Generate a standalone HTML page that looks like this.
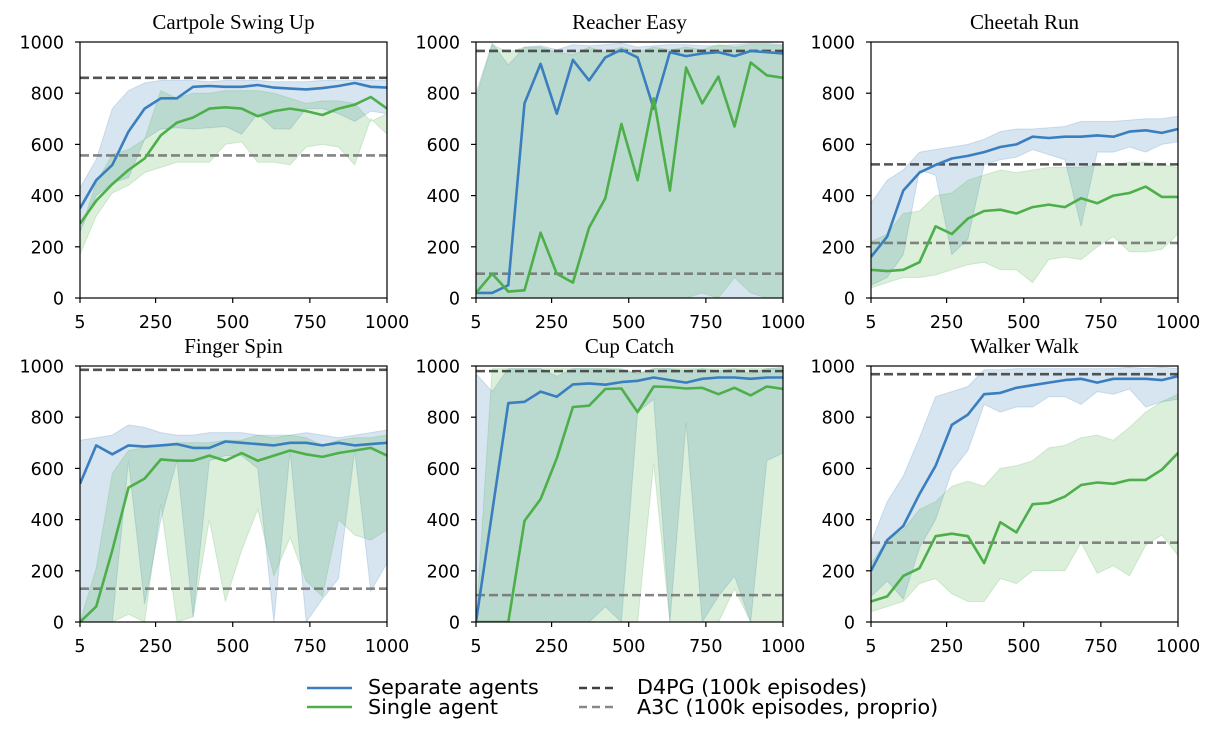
<!DOCTYPE html>
<html><head><meta charset="utf-8"><style>
html,body{margin:0;padding:0;background:#fff;}
svg text{font-family:"DejaVu Sans","Liberation Sans",sans-serif;}
</style></head><body>
<svg id="s" width="1212" height="726" xmlns="http://www.w3.org/2000/svg"></svg>
<script>
const S=document.getElementById('s');
let h='';
const panels=[
{t:'Cartpole Swing Up',x0:80,y0:42,d4:860,a3:557,
b:[350,460,520,650,740,780,780,825,828,825,825,832,822,818,815,820,828,840,825,822],
bu:[430,540,740,810,840,850,850,850,845,850,850,850,845,845,845,850,850,850,850,850],
bl:[260,400,450,470,620,660,665,660,665,670,640,720,660,660,740,740,720,690,730,720],
g:[290,380,445,500,545,635,685,705,740,745,740,710,730,740,730,715,740,755,785,740],
gu:[260,450,560,580,620,810,780,800,800,810,810,810,800,780,760,770,770,760,690,720],
gl:[170,320,410,440,490,510,530,530,530,600,610,530,530,520,590,600,590,520,700,640]},
{t:'Reacher Easy',x0:476,y0:42,d4:965,a3:95,
b:[20,20,50,760,915,720,930,850,940,970,940,740,960,945,955,960,945,965,960,955],
bu:[800,995,910,980,985,970,990,985,990,995,980,985,990,990,985,985,990,995,995,990],
bl:[0,0,0,0,0,0,0,0,0,0,0,0,0,0,0,0,0,0,0,0],
g:[20,95,25,30,255,95,60,275,390,680,460,780,420,900,760,865,670,920,870,860],
gu:[780,990,960,980,980,960,950,980,960,980,960,980,970,980,970,990,980,990,990,985],
gl:[0,0,0,0,0,0,0,0,0,0,0,0,0,0,20,0,80,20,0,0]},
{t:'Cheetah Run',x0:871,y0:42,d4:522,a3:215,
b:[160,240,420,490,520,545,555,570,590,600,630,625,630,630,635,630,650,655,645,660],
bu:[370,460,500,570,580,590,600,620,650,660,660,665,670,690,690,690,695,700,700,710],
bl:[50,80,170,500,480,170,230,520,540,550,580,560,540,280,570,570,590,570,600,610],
g:[110,105,110,140,280,250,310,340,345,330,355,365,355,390,370,400,410,435,395,395],
gu:[220,250,330,340,400,410,460,480,500,490,500,510,510,510,520,520,530,530,520,510],
gl:[40,60,80,80,90,110,130,140,110,110,60,150,160,150,200,240,180,180,190,250]},
{t:'Finger Spin',x0:80,y0:366,d4:985,a3:130,
b:[540,690,655,690,685,690,695,680,680,705,700,695,690,700,700,690,700,690,695,700],
bu:[710,720,730,770,760,740,730,730,740,740,740,730,730,730,740,730,720,730,740,750],
bl:[0,0,0,630,70,400,630,20,630,650,650,600,0,670,0,90,170,670,120,230],
g:[0,60,280,525,560,635,630,630,650,630,660,630,650,670,655,645,660,670,680,650],
gu:[0,210,580,670,680,690,700,700,700,710,710,730,720,730,720,690,710,720,720,730],
gl:[0,0,0,30,0,460,0,20,400,80,280,440,180,330,160,100,400,340,320,360]},
{t:'Cup Catch',x0:476,y0:366,d4:980,a3:105,
b:[0,430,855,860,900,880,928,932,927,937,942,955,945,935,950,955,955,950,955,955],
bu:[970,900,990,990,990,960,990,990,990,985,970,990,990,980,990,980,990,970,990,995],
bl:[0,0,0,0,0,0,0,0,60,0,820,870,0,780,0,100,180,0,630,660],
g:[0,0,0,395,480,640,840,845,910,912,820,920,918,912,915,890,915,885,920,910],
gu:[0,990,990,990,990,990,990,990,990,990,970,990,990,990,990,990,990,990,990,990],
gl:[0,0,0,0,0,0,0,0,0,0,0,620,0,0,0,0,130,0,0,0]},
{t:'Walker Walk',x0:871,y0:366,d4:968,a3:310,
b:[200,320,375,500,610,770,810,890,895,915,925,935,945,950,935,950,950,950,945,960],
bu:[310,470,570,720,880,900,920,985,985,990,990,990,990,990,990,990,995,990,995,990],
bl:[100,160,90,290,400,590,670,850,820,840,840,880,880,850,900,890,910,840,860,870],
g:[80,100,180,210,335,345,335,230,390,350,460,465,490,535,545,540,555,555,595,660],
gu:[230,320,360,440,470,530,550,530,600,610,630,680,690,720,730,710,760,820,860,890],
gl:[40,60,80,150,170,110,80,80,170,150,200,200,200,310,190,220,180,300,340,260]}
];
const W=307,H=256;
const blue='#3a7ebf',green='#4daf4a';
panels.forEach(p=>{
 const X=i=>p.x0+ (i*(995/19))/995*W;
 const Y=v=>p.y0+H-v/1000*H;
 const band=(u,l,c)=>{let s='';u.forEach((v,i)=>s+=(i?'L':'M')+X(i).toFixed(1)+','+Y(v).toFixed(1));
  for(let i=l.length-1;i>=0;i--)s+='L'+X(i).toFixed(1)+','+Y(l[i]).toFixed(1);
  return `<path d="${s}Z" fill="${c}" fill-opacity="0.2" stroke="${c}" stroke-opacity="0.2" stroke-width="1"/>`;};
 const line=(a,c)=>{let s='';a.forEach((v,i)=>s+=(i?'L':'M')+X(i).toFixed(1)+','+Y(v).toFixed(1));
  return `<path d="${s}" fill="none" stroke="${c}" stroke-width="2.6" stroke-linejoin="round"/>`;};
 h+=`<clipPath id="c${p.x0}${p.y0}"><rect x="${p.x0}" y="${p.y0}" width="${W}" height="${H}"/></clipPath>`;
 h+=`<g clip-path="url(#c${p.x0}${p.y0})">`;
 h+=band(p.bu,p.bl,'#377eb8')+band(p.gu,p.gl,green);
 h+=`<line x1="${p.x0}" x2="${p.x0+W}" y1="${Y(p.d4)}" y2="${Y(p.d4)}" stroke="#404040" stroke-opacity="0.9" stroke-width="2.6" stroke-dasharray="9,4"/>`;
 h+=`<line x1="${p.x0}" x2="${p.x0+W}" y1="${Y(p.a3)}" y2="${Y(p.a3)}" stroke="#707070" stroke-opacity="0.85" stroke-width="2.6" stroke-dasharray="9,4"/>`;
 h+=line(p.b,blue)+line(p.g,green)+'</g>';
 h+=`<rect x="${p.x0}" y="${p.y0}" width="${W}" height="${H}" fill="none" stroke="#000" stroke-width="1.2"/>`;
 for(let v=0;v<=1000;v+=200){const y=Y(v);h+=`<line x1="${p.x0-5}" x2="${p.x0}" y1="${y}" y2="${y}" stroke="#000" stroke-width="1.2"/><text x="${p.x0-16}" y="${y+6.5}" font-size="17.5" text-anchor="end">${v}</text>`;}
 [5,250,500,750,1000].forEach(v=>{const x=p.x0+(v-5)/995*W;h+=`<line x1="${x}" x2="${x}" y1="${p.y0+H}" y2="${p.y0+H+5}" stroke="#000" stroke-width="1.2"/><text x="${x}" y="${p.y0+H+30}" font-size="17.5" text-anchor="middle">${v}</text>`;});
 h+=`<text x="${p.x0+W/2}" y="${p.y0-13}" font-size="21" text-anchor="middle" style="font-family:'Liberation Serif',serif">${p.t}</text>`;
});
h+=`<line x1="307" x2="352" y1="688" y2="688" stroke="${blue}" stroke-width="2.6"/><line x1="307" x2="352" y1="707" y2="707" stroke="${green}" stroke-width="2.6"/>`;
h+=`<text x="368" y="694" font-size="20.7">Separate agents</text><text x="368" y="714" font-size="20.7">Single agent</text>`;
h+=`<line x1="579" x2="614" y1="688" y2="688" stroke="#404040" stroke-width="2.6" stroke-dasharray="8,5"/><line x1="579" x2="614" y1="707" y2="707" stroke="#888" stroke-width="2.6" stroke-dasharray="8,5"/>`;
h+=`<text x="637" y="694" font-size="20.7">D4PG (100k episodes)</text><text x="637" y="714" font-size="20.7">A3C (100k episodes, proprio)</text>`;
S.innerHTML=h;
</script>
</body></html>
